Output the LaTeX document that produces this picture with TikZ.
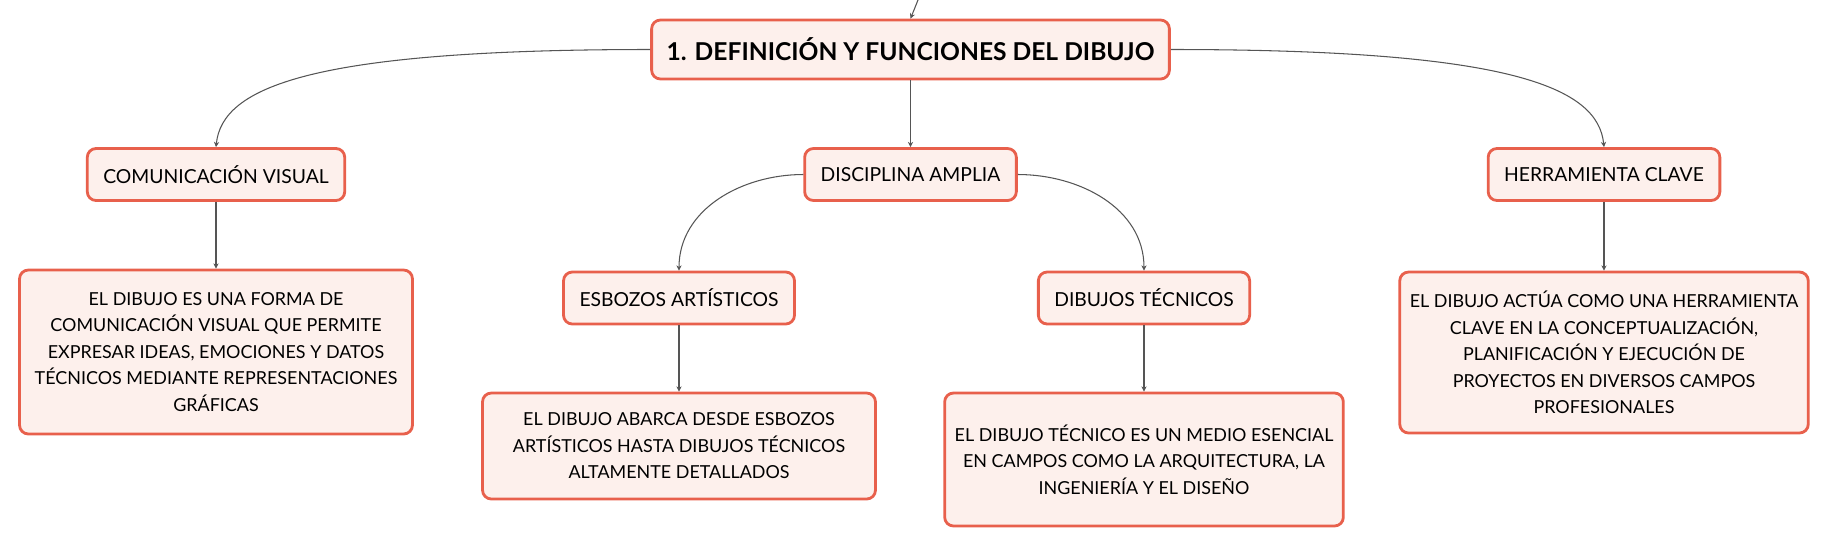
\documentclass[tikz,border=0pt]{standalone}
\usepackage{fontspec}
\setmainfont{Lato}
\usepackage{xcolor}
\usetikzlibrary{arrows.meta}
\definecolor{boxred}{HTML}{E8604C}
\definecolor{boxfill}{HTML}{FDF0EC}
\definecolor{linegray}{HTML}{555555}
\tikzset{
  topic/.style={draw=boxred, line width=1.6pt, fill=boxfill, rounded corners=5pt,
    align=center, inner xsep=0.32cm, minimum height=1.04cm,
    font=\fontsize{11}{15.1}\selectfont},
  note/.style={topic, inner xsep=0.2cm, minimum width=7.86cm,
    font=\fontsize{10.2}{15.1}\selectfont},
  link/.style={draw=linegray, line width=0.6pt, -{Stealth[length=3pt,width=3pt]}}
}
\begin{document}
\begin{tikzpicture}[x=0.02cm, y=-0.02cm]
  \useasboundingbox (0,0) rectangle (1821,549);
  % main topic
  \node[topic, minimum height=1.18cm, inner xsep=0.3cm, font=\fontsize{14}{17}\selectfont\bfseries] (root) at (910.5,49.5) {1. DEFINICIÓN Y FUNCIONES DEL DIBUJO};
  \coordinate (parent) at (918,0);
  % subtopics
  \node[topic] (com) at (216,174.5) {COMUNICACIÓN VISUAL};
  \node[topic] (dis) at (910.5,174.5) {DISCIPLINA AMPLIA};
  \node[topic] (her) at (1604,174.5) {HERRAMIENTA CLAVE};
  \node[topic] (esb) at (679,298) {ESBOZOS ARTÍSTICOS};
  \node[topic] (tec) at (1144,298) {DIBUJOS TÉCNICOS};
  % notes
  \node[note, minimum height=3.28cm] (dcom) at (216,352) {EL DIBUJO ES UNA FORMA DE\\COMUNICACIÓN VISUAL QUE PERMITE\\EXPRESAR IDEAS, EMOCIONES Y DATOS\\TÉCNICOS MEDIANTE REPRESENTACIONES\\GRÁFICAS};
  \node[note, minimum height=2.12cm] (desb) at (679,446) {EL DIBUJO ABARCA DESDE ESBOZOS\\ARTÍSTICOS HASTA DIBUJOS TÉCNICOS\\ALTAMENTE DETALLADOS};
  \node[note, minimum height=2.66cm] (dtec) at (1144,459.5) {EL DIBUJO TÉCNICO ES UN MEDIO ESENCIAL\\EN CAMPOS COMO LA ARQUITECTURA, LA\\INGENIERÍA Y EL DISEÑO};
  \node[note, minimum height=3.22cm] (dher) at (1604,352.5) {EL DIBUJO ACTÚA COMO UNA HERRAMIENTA\\CLAVE EN LA CONCEPTUALIZACIÓN,\\PLANIFICACIÓN Y EJECUCIÓN DE\\PROYECTOS EN DIVERSOS CAMPOS\\PROFESIONALES};
  % connectors
  \draw[link] (parent) -- (root.north);
  \draw[link] (root.west) .. controls +(-340,0) and +(6,-60) .. (com.north);
  \draw[link] (root.east) .. controls +(340,0) and +(-6,-60) .. (her.north);
  \draw[link] (root.south) -- (dis.north);
  \draw[link] (dis.west) to[out=180, in=90] (esb.north);
  \draw[link] (dis.east) to[out=0, in=90] (tec.north);
  \draw[link] (com.south) -- (dcom.north);
  \draw[link] (esb.south) -- (desb.north);
  \draw[link] (tec.south) -- (dtec.north);
  \draw[link] (her.south) -- (dher.north);
\end{tikzpicture}
\end{document}
